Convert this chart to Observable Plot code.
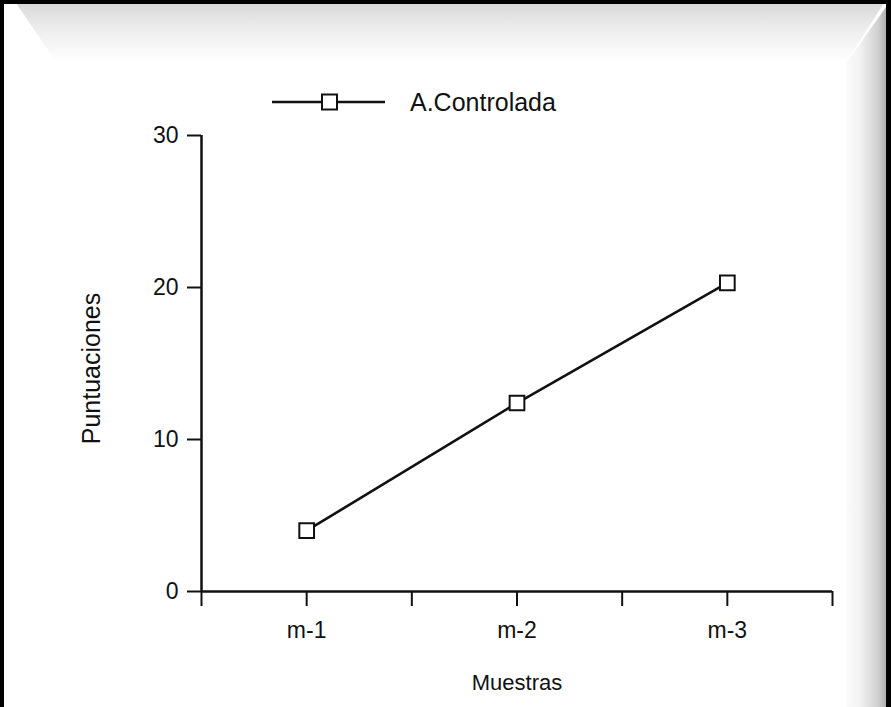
<!DOCTYPE html>
<html>
<head>
<meta charset="utf-8">
<script src="https://cdn.jsdelivr.net/npm/d3@7"></script>
<script src="https://cdn.jsdelivr.net/npm/@observablehq/plot@0.6"></script>
<style>
  html, body { margin: 0; padding: 0; background: #fff; }
  #wrap { position: relative; width: 891px; height: 707px; overflow: hidden; background: #fff; font-family: "Liberation Sans", Arial, sans-serif; }
  .frame { position: absolute; inset: 0; border-top: 4px solid #000; border-left: 4px solid #000; border-right: 5px solid #000; box-sizing: border-box; z-index: 3; pointer-events: none; }
  .topface { position: absolute; left: 0; top: 0; width: 891px; height: 62px; z-index: 0;
    background: linear-gradient(to bottom, #d6d6d6 0%, #ececec 45%, #ffffff 100%);
    clip-path: polygon(14px 0, 886px 0, 846px 62px, 56px 62px); }
  .rightface { position: absolute; right: 0; top: 0; width: 52px; height: 707px; z-index: 0;
    background: linear-gradient(to right, #ffffff 0%, #f2f2f2 40%, #d0d0d0 75%, #9a9a9a 100%);
    clip-path: polygon(8px 62px, 52px 0, 52px 707px, 8px 707px); }
  #chart { position: absolute; left: 0; top: 0; z-index: 1; }
  #legend { position: absolute; left: 0; top: 0; z-index: 2; }
</style>
</head>
<body>
<div id="wrap">
  <div class="topface"></div>
  <div class="rightface"></div>
  <div id="chart"></div>
  <div id="legend"></div>
  <div class="frame"></div>
</div>
<script>
// ---- data ----
const categories = ["m-1", "m-2", "m-3"];
const values = [4.0, 12.4, 20.3];
const yTicks = [0, 10, 20, 30];
const seriesName = "A.Controlada";
const xTitle = "Muestras";
const yTitle = "Puntuaciones";

const data = categories.map((c, i) => ({cat: c, pos: i + 0.5, value: values[i]}));
const centerTicks = categories.map((_, i) => i + 0.5);
const boundTicks = d3.range(categories.length + 1);
const allXTicks = [...boundTicks, ...centerTicks].sort((a, b) => a - b);
const labelFor = new Map(categories.map((c, i) => [i + 0.5, c]));

const font = "Liberation Sans, Arial, sans-serif";

const plot = Plot.plot({
  width: 891,
  height: 707,
  marginLeft: 201,
  marginRight: 59,
  marginTop: 135,
  marginBottom: 116,
  style: {background: "transparent", fontFamily: font, fontSize: "23px", color: "#111"},
  x: {domain: [0, categories.length], axis: null},
  y: {domain: [0, 30], axis: null},
  marks: [
    Plot.axisY({ticks: yTicks, tickSize: 14, tickPadding: 9, strokeWidth: 2, fontSize: 23, label: null}),
    Plot.axisX({ticks: allXTicks, tickSize: 15, tickPadding: 15, strokeWidth: 2, fontSize: 23,
      tickFormat: d => labelFor.get(d) ?? "", label: null}),
    Plot.ruleX([0], {strokeWidth: 2.5, stroke: "#111"}),
    Plot.ruleY([0], {strokeWidth: 2.5, stroke: "#111"}),
    Plot.line(data, {x: "pos", y: "value", stroke: "#111", strokeWidth: 2.6}),
    Plot.dot(data, {x: "pos", y: "value", symbol: "square", r: 8.3, fill: "#fff", stroke: "#111", strokeWidth: 2}),
    Plot.text([yTitle], {frameAnchor: "left", textAnchor: "middle", rotate: -90, dx: -110, dy: 5, fontSize: 25, fill: "#111"}),
    Plot.text([xTitle], {frameAnchor: "bottom", textAnchor: "middle", dy: 98, fontSize: 22, fill: "#111"})
  ]
});
document.getElementById("chart").appendChild(plot);

// ---- legend (above the plot) ----
const lg = d3.select("#legend").append("svg").attr("width", 891).attr("height", 135);
lg.append("line").attr("x1", 272).attr("x2", 385).attr("y1", 102).attr("y2", 102)
  .attr("stroke", "#111").attr("stroke-width", 2.5);
lg.append("rect").attr("x", 322).attr("y", 94.5).attr("width", 15).attr("height", 15)
  .attr("fill", "#fff").attr("stroke", "#111").attr("stroke-width", 2);
lg.append("text").attr("x", 410).attr("y", 102).attr("dy", "0.35em")
  .attr("font-family", font).attr("font-size", 25).attr("fill", "#111").text(seriesName);
</script>
</body>
</html>
